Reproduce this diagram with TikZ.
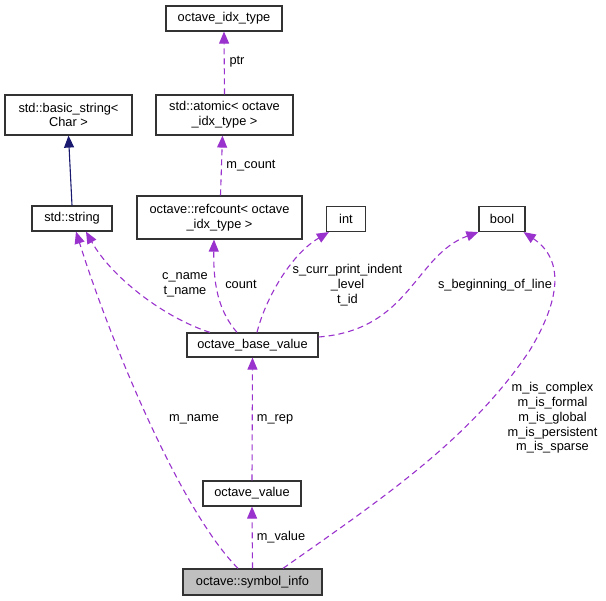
\documentclass[tikz,border=0pt]{standalone}
\usepackage{fontspec}
\setmainfont{Liberation Sans}
\usetikzlibrary{arrows.meta}
\definecolor{edgepurple}{HTML}{9A32CD}
\definecolor{edgenavy}{HTML}{191970}
\definecolor{boxgrey}{HTML}{BFBFBF}
\begin{document}
\begin{tikzpicture}[x=1pt,y=-1pt,
  font=\fontsize{12.8}{14.7}\selectfont,
  box/.style={draw=black!80,line width=1.2pt,inner sep=0pt,align=center,fill=white},
  lbl/.style={inner sep=0pt,align=center},
  pedge/.style={draw=edgepurple,line width=1.1pt,dash pattern=on 6pt off 4pt,
    -{Triangle[length=12pt,width=10pt,fill=edgepurple]}},
  nedge/.style={draw=edgenavy,line width=1.1pt,
    -{Triangle[length=12pt,width=10pt,fill=edgenavy]}}]
\useasboundingbox (0,0) rectangle (606,601);
% nodes
\node[box,minimum width=116pt,minimum height=25pt] (idx) at (224,18.5) {octave\_idx\_type};
\node[box,minimum width=127pt,minimum height=40pt] (bstr) at (68.5,115) {std::basic\_string<\\Char >};
\node[box,minimum width=137pt,minimum height=40pt] (atom) at (224.5,115) {std::atomic< octave\\\_idx\_type >};
\node[box,minimum width=80pt,minimum height=25pt] (str) at (72,218.5) {std::string};
\node[box,minimum width=165pt,minimum height=43pt] (ref) at (219.5,217.5) {octave::refcount< octave\\\_idx\_type >};
\node[box,minimum width=39pt,minimum height=25pt] (int) at (346,219) {int};
\node[box,minimum width=46pt,minimum height=25pt] (bool) at (502,219) {bool};
\node[box,minimum width=131pt,minimum height=24pt] (base) at (252.5,345) {octave\_base\_value};
\node[box,minimum width=98pt,minimum height=25pt] (oval) at (252,493.5) {octave\_value};
\node[box,fill=boxgrey,minimum width=139pt,minimum height=26pt] (sym) at (252.5,582) {octave::symbol\_info};
% edges
\draw[pedge] (atom.north) -- (idx.south);
\draw[pedge] ([xshift=1pt]ref.north) -- ([xshift=-2pt]atom.south);
\draw[nedge] (str.north) -- (bstr.south);
\draw[pedge] ([xshift=-42.5pt]base.north) .. controls (165,318) and (112,278) .. ([xshift=14pt]str.south);
\draw[pedge] ([xshift=-15.5pt]base.north) .. controls (222,315) and (213,292) .. ([xshift=-5.5pt]ref.south);
\draw[pedge] ([xshift=4.5pt]base.north) .. controls (265,300) and (290,255) .. ([xshift=3pt]int.south west);
\draw[pedge] ([yshift=8pt]base.east) .. controls (410,330) and (415,255) .. (bool.south west);
\draw[pedge] ([xshift=-14.5pt]sym.north) .. controls (180,510) and (110,340) .. ([xshift=4pt]str.south);
\draw[pedge] (oval.north) -- (base.south);
\draw[pedge] (sym.north) -- (oval.south);
\draw[pedge] ([xshift=30.5pt]sym.north) .. controls (380,500) and (470,440) .. (530,350)
  .. controls (560,300) and (565,260) .. ([xshift=-2pt]bool.south east);
% labels
\node[lbl] (lptr) at (237,62) {ptr};
\node[lbl] (lmcount) at (251,166) {m\_count};
\node[lbl] (lcname) at (185,285) {c\_name\\t\_name};
\node[lbl] (lcount) at (241,284) {count};
\node[lbl] (lscurr) at (347.5,285) {s\_curr\_print\_indent\\\_level\\t\_id};
\node[lbl] (lsbeg) at (495,285) {s\_beginning\_of\_line};
\node[lbl] (lmname) at (194,419) {m\_name};
\node[lbl] (lmrep) at (275,419) {m\_rep};
\node[lbl] (lmvalue) at (281,537) {m\_value};
\node[lbl] (lmis) at (552.5,418) {m\_is\_complex\\m\_is\_formal\\m\_is\_global\\m\_is\_persistent\\m\_is\_sparse};
\end{tikzpicture}
\end{document}
